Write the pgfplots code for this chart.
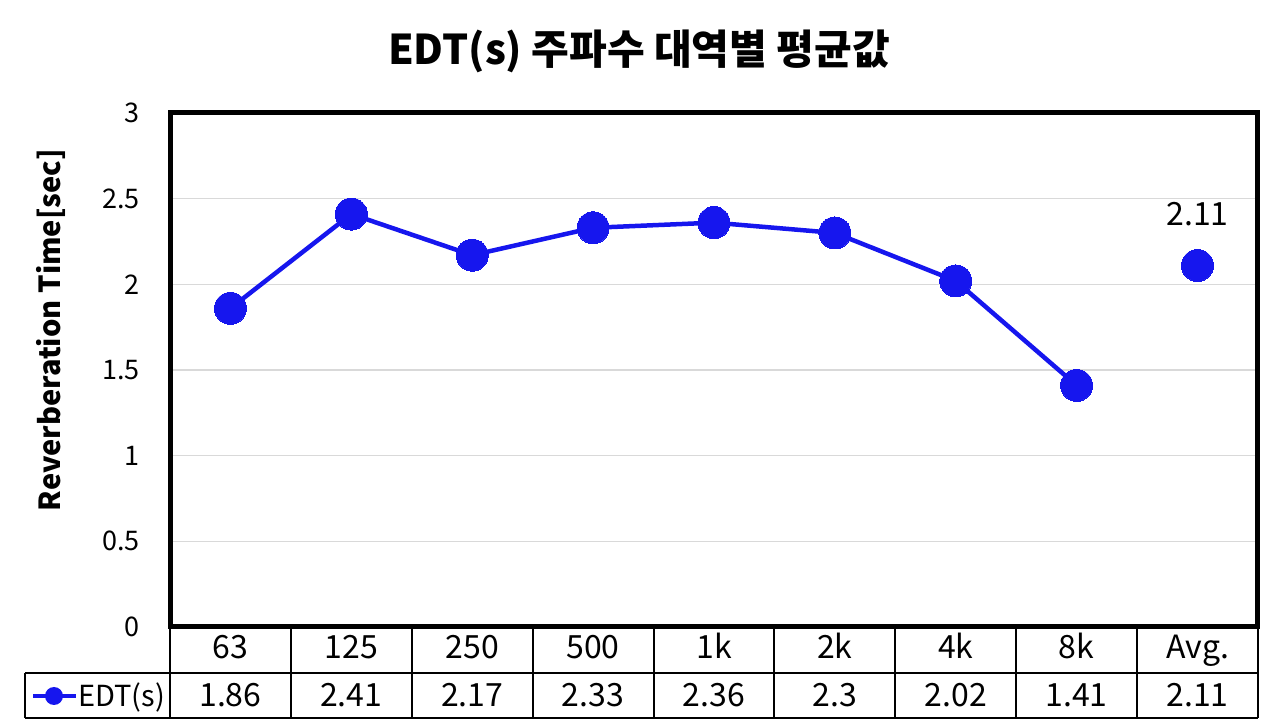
\documentclass[border=0pt]{standalone}
\usepackage{pgfplots}
\pgfplotsset{compat=1.18}
\usepackage{fontspec}
\setmainfont{Noto Sans CJK KR}
\definecolor{edtblue}{RGB}{22,22,238}
\definecolor{gridgray}{RGB}{217,217,217}
\begin{document}
\begin{tikzpicture}
\path[use as bounding box] (0,0) rectangle (1280pt,728pt);
\begin{axis}[
  at={(170pt,101pt)}, anchor=south west,
  scale only axis, width=1088pt, height=514pt,
  xmin=-0.5, xmax=8.5, ymin=0, ymax=3,
  xtick=\empty,
  ytick={0,0.5,1,1.5,2,2.5,3},
  yticklabels={0,0.5,1,1.5,2,2.5,3},
  ymajorgrids, major grid style={draw=gridgray, line width=1.5pt},
  major tick length=0pt,
  axis line style={line width=5pt, draw=black},
  yticklabel style={font=\fontsize{27pt}{30pt}\selectfont, anchor=east, inner sep=0pt, xshift=-30pt},
  /pgf/number format/assume math mode=true,
  clip=false,
]
\addplot[edtblue, line width=4.5pt, mark=*, mark size=16pt, mark options={fill=edtblue, draw=edtblue, line width=0pt}]
  coordinates {(0,1.86)(1,2.41)(2,2.17)(3,2.33)(4,2.36)(5,2.3)(6,2.02)(7,1.41)};
\addplot[edtblue, only marks, mark=*, mark size=16pt, mark options={fill=edtblue, draw=edtblue, line width=0pt},
  nodes near coords, point meta=explicit symbolic,
  every node near coord/.append style={font=\fontsize{32pt}{36pt}\selectfont, text=black, anchor=south, inner sep=0pt, yshift=40pt}]
  coordinates {(8,2.11) [2.11]};
\end{axis}
% title
\node[font={\bfseries\fontsize{41pt}{45pt}\selectfont}, anchor=base, inner sep=0pt] at (639pt,663pt) {EDT(s) 주파수 대역별 평균값};
% y label
\node[rotate=90, font={\bfseries\fontsize{29pt}{33pt}\selectfont}, anchor=base, inner sep=0pt] at (60pt,398pt) {Reverberation Time[sec]};
% data table
\begin{scope}[line width=2pt]
\draw (170pt,101pt) -- (1258pt,101pt);
\draw (25pt,55pt) -- (1258pt,55pt);
\draw (25pt,10pt) -- (1258pt,10pt);
\draw (25pt,10pt) -- (25pt,55pt);
\foreach \k in {0,...,9} {
  \draw ({170pt+\k*120.89pt},10pt) -- ({170pt+\k*120.89pt},101pt);
}
\end{scope}
\foreach \lab [count=\i from 0] in {63,125,250,500,1k,2k,4k,8k,Avg.} {
  \node[font=\fontsize{32pt}{36pt}\selectfont, anchor=base, inner sep=0pt] at ({230.4pt+\i*120.89pt},69pt) {\lab};
}
\foreach \val [count=\i from 0] in {1.86,2.41,2.17,2.33,2.36,2.3,2.02,1.41,2.11} {
  \node[font=\fontsize{32pt}{36pt}\selectfont, anchor=base, inner sep=0pt] at ({230.4pt+\i*120.89pt},21pt) {\val};
}
\draw[edtblue, line width=4.5pt] (33pt,32pt) -- (76pt,32pt);
\fill[edtblue] (54pt,32pt) circle (9pt);
\node[font=\fontsize{29pt}{33pt}\selectfont, anchor=base west, inner sep=0pt] at (78pt,21pt) {EDT(s)};
\end{tikzpicture}
\end{document}
